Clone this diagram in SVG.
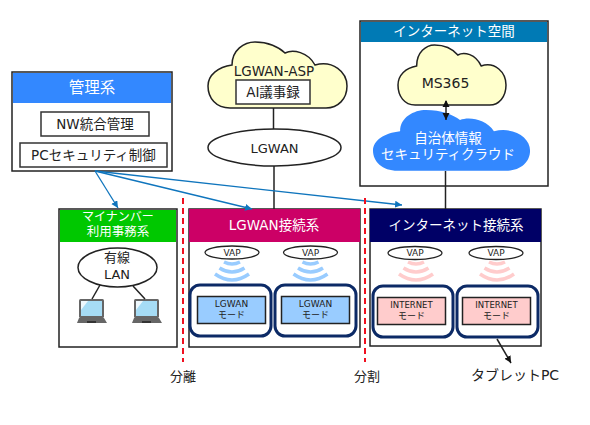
<svg xmlns="http://www.w3.org/2000/svg" width="590" height="425" viewBox="0 0 590 425">
<style>
text{font-family:"DejaVu Sans","Noto Sans CJK JP",sans-serif;text-anchor:middle;fill:#222}
.jp{font-family:"Noto Sans CJK JP",sans-serif}
.w{fill:#fff}
.box{fill:#fff;stroke:#222;stroke-width:1.5}
.in{fill:#fff;stroke:#333;stroke-width:1.5}
.line{stroke:#222;stroke-width:1.5;fill:none}
.blue{stroke:#0f75bd;stroke-width:1.3;fill:none;marker-end:url(#ba)}
.red{stroke:#f01020;stroke-width:2;stroke-dasharray:6 4;fill:none}
.outer{fill:#fff;stroke:#0c2a66;stroke-width:3}
.lm{fill:#99ccff;stroke:#222;stroke-width:1.5}
.im{fill:#ffcccc;stroke:#222;stroke-width:1.5}
.vap{fill:#fff;stroke:#222;stroke-width:1.3}
.cy{fill:#ffffcc;stroke:#222;stroke-width:1.5}
.wb{fill:none;stroke:#99ccff;stroke-width:3.5}
.wp{fill:none;stroke:#ffcccc;stroke-width:3.500}
#cloud{vector-effect:non-scaling-stroke}
</style>
<defs>
<marker id="ba" markerWidth="8" markerHeight="8" refX="7" refY="3.5" orient="auto" markerUnits="userSpaceOnUse"><path d="M0 0L7 3.5L0 7z" fill="#0f75bd"/></marker>
<marker id="ka" markerWidth="8" markerHeight="8" refX="7" refY="3.5" orient="auto" markerUnits="userSpaceOnUse"><path d="M0 0L7 3.5L0 7z" fill="#111"/></marker>
<marker id="ks" markerWidth="8" markerHeight="8" refX="1" refY="3.5" orient="auto" markerUnits="userSpaceOnUse"><path d="M7 0L0 3.5L7 7z" fill="#111"/></marker>
<g id="laptop">
<rect x="2" y="0" width="25" height="19" rx="1.5" fill="#666"/>
<rect x="4" y="2" width="21" height="15" fill="#a6dcf5"/>
<path d="M4 2h7L4 11z" fill="#eef8fd"/>
<path d="M2 19h25l3 5H0z" fill="#666"/>
<rect x="10" y="22" width="9" height="2" fill="#333"/>
</g>
<g id="wifiB" class="wb">
<path d="M-8 -1Q0 3 8 -1"/><path d="M-12.500 5Q0 13 12.500 5"/><path d="M-17 11Q0 23 17 11"/>
</g>
<g id="wifiP" class="wp">
<path d="M-8 -1Q0 3 8 -1"/><path d="M-12.500 5Q0 13 12.500 5"/><path d="M-17 11Q0 23 17 11"/>
</g>
<path id="cloud" d="M24 23C24 8 36 0 47 0C60 0 71 5 77 11C85 7 100 10 107 23C125 18 139 30 139 44C139 57 130 66 118 66H22C8 66 0 56 0 44C0 33 10 25 24 23Z"/>
</defs>

<g id="mgmt">
<rect class="box" x="12" y="72" width="160" height="99"/>
<rect x="13" y="73" width="158" height="30" fill="#3388ff"/>
<text class="w jp" x="92" y="93" font-size="15.500">管理系</text>
<rect class="in" x="41" y="112" width="108" height="24"/>
<text x="95" y="129" font-size="13.500">NW統合管理</text>
<rect class="in" x="20" y="143" width="147" height="24"/>
<text x="93.500" y="160" font-size="13.500">PCセキュリティ制御</text>
</g>

<g id="lgwan-asp">
<use href="#cloud" class="cy" transform="translate(208 42)"/>
<text x="274" y="76" font-size="13.500">LGWAN-ASP</text>
<rect class="in" x="236" y="80" width="74" height="24"/>
<text x="273" y="97" font-size="13.500">AI議事録</text>
</g>
<g id="lgwan">
<ellipse cx="274.500" cy="147.500" rx="66.500" ry="18.500" fill="#fff" stroke="#222" stroke-width="1.500"/>
<text x="274.500" y="152.500" font-size="13">LGWAN</text>
</g>

<g id="internet">
<rect class="box" x="360" y="21" width="188" height="165"/>
<rect x="361" y="22" width="186" height="20" fill="#007ab5"/>
<text class="w jp" x="454" y="35.500" font-size="13.500">インターネット空間</text>
<use href="#cloud" class="cy" transform="translate(398 45) scale(.777 .91)"/>
<text x="445.500" y="88" font-size="14">MS365</text>
<use href="#cloud" fill="#3388ff" transform="translate(373 110) scale(1.13 .92)"/>
<text class="w jp" x="448" y="143" font-size="13.500">自治体情報</text>
<text class="w jp" x="448" y="159" font-size="13.500">セキュリティクラウド</text>
<line class="line" x1="446" y1="101" x2="446" y2="120" marker-start="url(#ks)" marker-end="url(#ka)"/>
</g>

<g id="mynumber">
<rect class="box" x="59" y="209" width="118" height="138"/>
<rect x="60" y="210" width="116" height="32" fill="#00c800"/>
<text class="w jp" x="118" y="221" font-size="12">マイナンバー</text>
<text class="w jp" x="118" y="236" font-size="12.500">利用事務系</text>
<ellipse cx="117.500" cy="267.500" rx="39.500" ry="19.500" fill="#fff" stroke="#222" stroke-width="1.500"/>
<text x="117" y="262" font-size="13">有線</text>
<text x="117" y="279" font-size="13">LAN</text>
<use href="#laptop" x="77" y="299"/>
<use href="#laptop" x="132" y="299"/>
</g>

<g id="lgwan-conn">
<rect class="box" x="189" y="209" width="171" height="138"/>
<rect x="189" y="209" width="171" height="33" fill="#cc0066"/>
<text class="w" x="274" y="230" font-size="13.500">LGWAN接続系</text>
<ellipse class="vap" cx="232" cy="252.500" rx="27" ry="6.500"/>
<text x="232" y="255.500" font-size="9">VAP</text>
<ellipse class="vap" cx="310.500" cy="252.500" rx="27" ry="6.500"/>
<text x="310.500" y="255.500" font-size="9">VAP</text>
<use href="#wifiB" x="232" y="263"/>
<use href="#wifiB" x="310.500" y="263"/>
<rect class="outer" x="190" y="285" width="81" height="51" rx="10"/>
<rect class="outer" x="275" y="285" width="81" height="51" rx="10"/>
<rect class="lm" x="197.500" y="296.500" width="68" height="27"/>
<rect class="lm" x="281.500" y="296.500" width="68" height="27"/>
<text x="231.500" y="307" font-size="9">LGWAN</text>
<text class="jp" x="231.500" y="318" font-size="9">モード</text>
<text x="315.500" y="307" font-size="9">LGWAN</text>
<text class="jp" x="315.500" y="318" font-size="9">モード</text>
</g>

<g id="internet-conn">
<rect class="box" x="370" y="209" width="171" height="137"/>
<rect x="370" y="209" width="171" height="33" fill="#000066"/>
<text class="w jp" x="456" y="229.500" font-size="13.500">インターネット接続系</text>
<ellipse class="vap" cx="415" cy="253" rx="27" ry="6.500"/>
<text x="415" y="256" font-size="9">VAP</text>
<ellipse class="vap" cx="496" cy="253" rx="27" ry="6.500"/>
<text x="496" y="256" font-size="9">VAP</text>
<use href="#wifiP" x="416" y="263"/>
<use href="#wifiP" x="497" y="263"/>
<rect class="outer" x="373" y="286" width="80" height="51" rx="10"/>
<rect class="outer" x="457" y="286" width="81" height="51" rx="10"/>
<rect class="im" x="377.500" y="297.500" width="68" height="27"/>
<rect class="im" x="462.500" y="297.500" width="68" height="27"/>
<text x="411.500" y="308" font-size="8.500">INTERNET</text>
<text class="jp" x="411.500" y="319" font-size="9">モード</text>
<text x="496.500" y="308" font-size="8.500">INTERNET</text>
<text class="jp" x="496.500" y="319" font-size="9">モード</text>
</g>

<g id="connectors">
<line class="line" x1="273.500" y1="108" x2="273.500" y2="129"/>
<line class="line" x1="274" y1="166" x2="274" y2="209"/>
<line class="line" x1="445.500" y1="171" x2="445.500" y2="209"/>
<line class="line" x1="100" y1="285" x2="92" y2="299"/>
<line class="line" x1="133" y1="286" x2="145" y2="299"/>
<line class="line" x1="497" y1="339" x2="511" y2="363" marker-end="url(#ka)"/>
<line class="blue" x1="95" y1="171" x2="118" y2="208"/>
<line class="blue" x1="95" y1="171" x2="252" y2="209"/>
<line class="blue" x1="95" y1="171" x2="402" y2="205"/>
</g>

<g id="dividers">
<line class="red" x1="183" y1="198" x2="183" y2="362"/>
<line class="red" x1="365" y1="198" x2="365" y2="362"/>
<text x="183" y="381" font-size="13">分離</text>
<text x="367" y="381" font-size="13">分割</text>
<text x="515" y="380" font-size="14">タブレットPC</text>
</g>
</svg>
